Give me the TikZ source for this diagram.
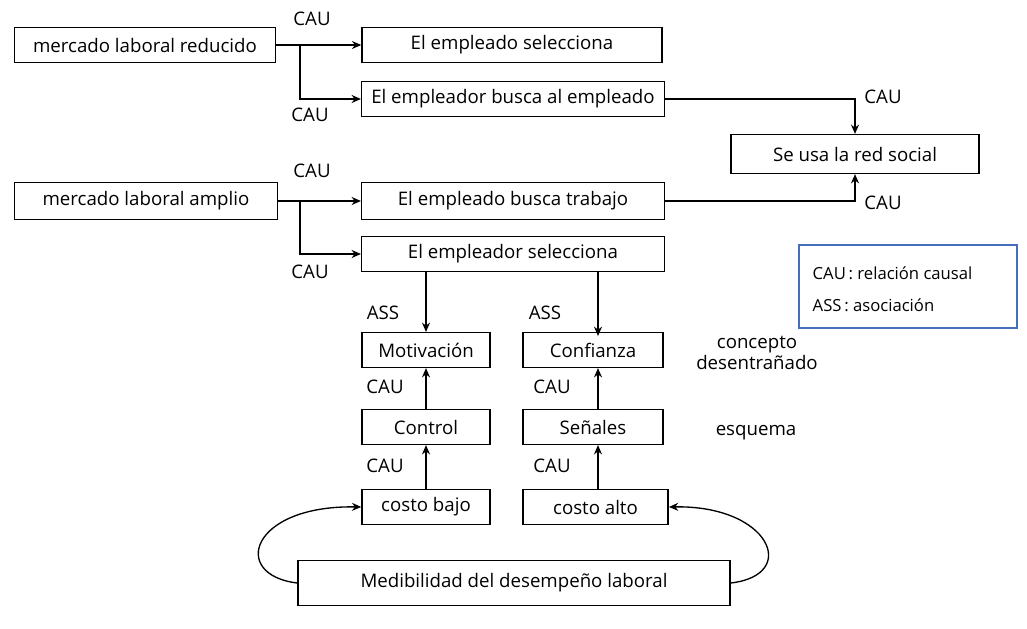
\documentclass[tikz,border=0pt]{standalone}
\usepackage{fontspec}
\setmainfont{Open Sans}
\usetikzlibrary{arrows.meta}
\definecolor{legblue}{RGB}{70,110,190}
\begin{document}
\begin{tikzpicture}[x=0.75pt,y=-0.75pt,
  bx/.style={draw,line width=1.1pt,minimum height=26pt,inner sep=2pt,font=\fontsize{14}{16}\selectfont},
  lb/.style={font=\fontsize{14}{16}\selectfont},
  ar/.style={-{Stealth[length=7pt,width=6pt]},line width=1pt}]
\useasboundingbox (0,0) rectangle (1027,628);
\node[bx,minimum width=196pt] (mr) at (145,45) {mercado laboral reducido};
\node[bx,minimum width=225pt] (es) at (512,45) {El empleado selecciona};
\node[bx,minimum width=227pt] (eb) at (513,99) {El empleador busca al empleado};
\node[bx,minimum width=186pt,minimum height=29pt] (rs) at (855,154) {Se usa la red social};
\node[bx,minimum width=197pt,minimum height=28pt] (ma) at (146,201) {mercado laboral amplio};
\node[bx,minimum width=227pt,minimum height=28pt] (bt) at (513,201) {El empleado busca trabajo};
\node[bx,minimum width=227pt] (se) at (513,254) {El empleador selecciona};
\node[bx,minimum width=96pt] (mo) at (426,350) {Motivación};
\node[bx,minimum width=105pt] (co) at (593,350) {Confianza};
\node[bx,minimum width=96pt] (ct) at (426,427) {Control};
\node[bx,minimum width=105pt] (sn) at (593,427) {Señales};
\node[bx,minimum width=96pt] (cb) at (426,507) {costo bajo};
\node[bx,minimum width=109pt] (ca) at (595.5,507) {costo alto};
\node[bx,minimum width=324pt,minimum height=34pt] (md) at (514,583) {Medibilidad del desempeño laboral};
\node[draw=legblue,line width=1.4pt,minimum width=163pt,minimum height=62pt] (lg) at (908,286.5) {};
\node[anchor=west,font=\fontsize{12.5}{14}\selectfont] (l1) at (808,273) {CAU\,: relación causal};
\node[anchor=west,font=\fontsize{12.5}{14}\selectfont] (l2) at (808,305) {ASS\,: asociación};

\coordinate (j1) at (300,45); \coordinate (j2) at (300,201);
\draw[ar] (mr.east) -- (es.west);
\draw[ar] (j1) |- (eb.west);
\draw[ar] (eb.east) -| (rs.north);
\draw[ar] (bt.east) -| (rs.south);
\draw[ar] (ma.east) -- (bt.west);
\draw[ar] (j2) |- (se.west);
\draw[ar] (se.south -| mo.north) -- (mo.north);
\draw[ar] (598,271) -- (598,336);
\draw[ar] (ct) -- (mo);
\draw[ar] (cb) -- (ct);
\draw[ar] (sn.north -| 598,0) -- (co.south -| 598,0);
\draw[ar] (ca.north -| 598,0) -- (sn.south -| 598,0);
\draw[ar] (md.west) .. controls (230,575) and (250,505) .. (cb.west);
\draw[ar] (md.east) .. controls (800,575) and (770,505) .. (ca.east);

\node[lb] (t1) at (312,19) {CAU};
\node[lb] (t2) at (310,115) {CAU};
\node[lb] (t3) at (883,97) {CAU};
\node[lb] (t4) at (883,203) {CAU};
\node[lb] (t5) at (312,171) {CAU};
\node[lb] (t6) at (310,272) {CAU};
\node[lb] (t7) at (383,313) {ASS};
\node[lb] (t8) at (545,313) {ASS};
\node[lb] (t9) at (385,387) {CAU};
\node[lb] (t10) at (385,466) {CAU};
\node[lb] (t11) at (552,387) {CAU};
\node[lb] (t12) at (552,466) {CAU};
\node[lb,align=center] (t13) at (757,353) {concepto\\desentrañado};
\node[lb] (t14) at (756,433) {esquema};
\end{tikzpicture}
\end{document}
